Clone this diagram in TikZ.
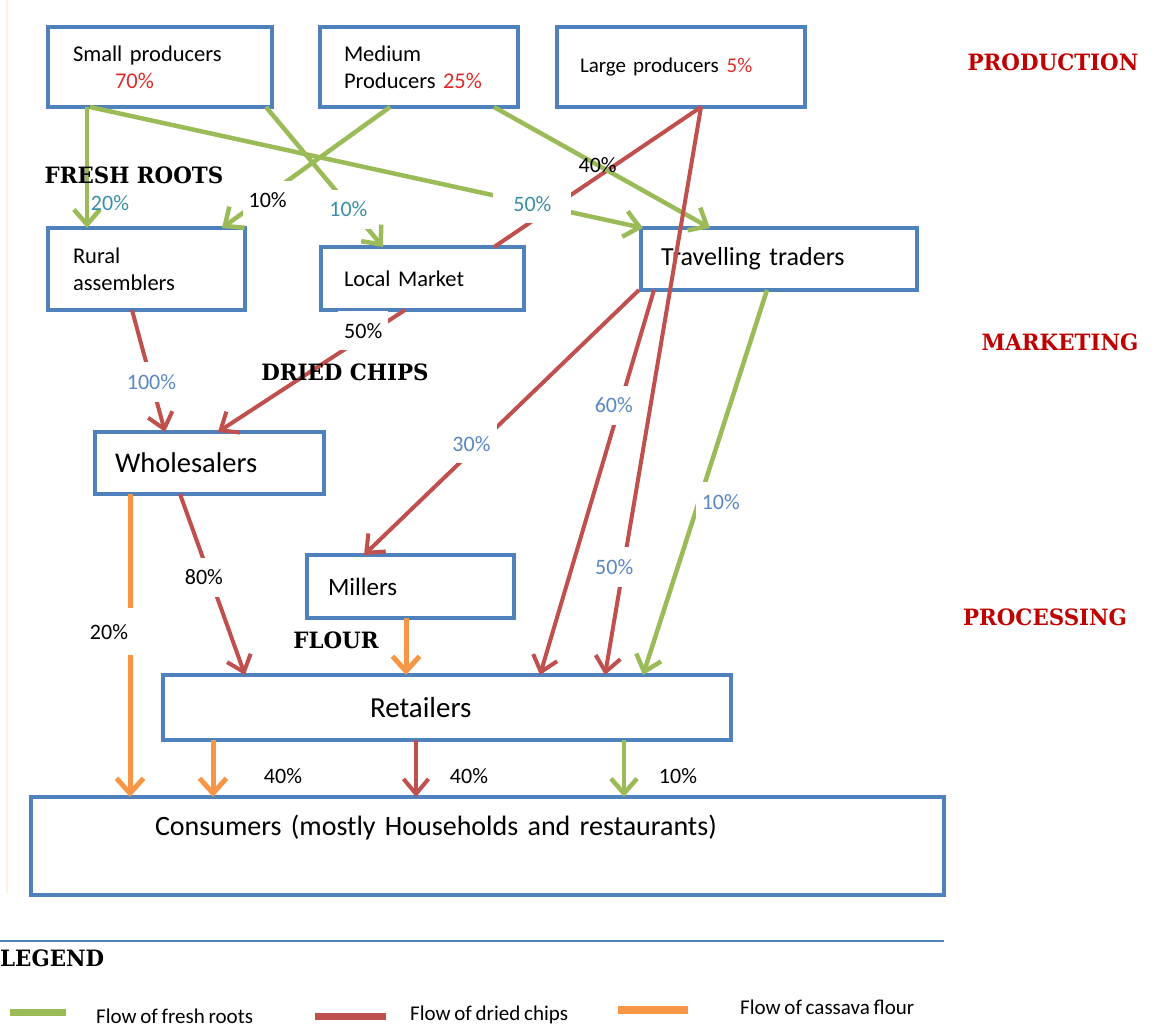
\documentclass[tikz,border=0pt]{standalone}
\usepackage{fontspec}
\setmainfont{Carlito}[WordSpace=0.8]
\newfontfamily\slabfont[FakeStretch=0.95]{DejaVu Serif}
\usetikzlibrary{arrows.meta}
\definecolor{boxblue}{HTML}{4F81BD}
\definecolor{freshgreen}{HTML}{9BBB59}
\definecolor{chipred}{HTML}{C0504D}
\definecolor{flourorange}{HTML}{F79646}
\definecolor{pcteal}{HTML}{3A8FA8}
\definecolor{pcblue}{HTML}{5B87C5}
\definecolor{pctred}{HTML}{E02B2B}
\definecolor{sidered}{HTML}{C00000}

\begin{document}
\begin{tikzpicture}[x=1pt, y=-1pt,
  box/.style={draw=boxblue, line width=3.5pt, fill=white, anchor=north west, outer sep=0pt,
    align=left, font=\fontsize{22.5}{27}\selectfont},
  fresh/.style={draw=freshgreen, line width=4.5pt, -{Straight Barb[length=15pt,width=26pt]}},
  chips/.style={draw=chipred, line width=4pt, -{Straight Barb[length=15pt,width=25pt]}},
  flour/.style={draw=flourorange, line width=5pt, -{Straight Barb[length=15pt,width=27pt]}},
  pct/.style={fill=white, font=\fontsize{22}{22}\selectfont, inner xsep=6pt, inner ysep=12pt},
  share/.style={font=\fontsize{22}{22}\selectfont},
  stage/.style={text=sidered, font=\slabfont\bfseries\fontsize{22.5}{22.5}\selectfont},
  kind/.style={font=\slabfont\bfseries\fontsize{22.5}{22.5}\selectfont},
  legtext/.style={font=\fontsize{21}{21}\selectfont, anchor=west, inner sep=0pt}]
  \useasboundingbox (0,0) rectangle (1154,1030);
  \draw[orange!12, line width=2pt] (7,0) -- (7,893);

  % actors
  \node[box, minimum height=80pt, inner xsep=25pt, text width=174pt] (small) at (48,27)
    {Small producers\\\hspace*{42pt}{\color{pctred}70\%}};
  \node[box, minimum height=80pt, inner xsep=24pt, text width=150pt] (medium) at (320,27)
    {Medium\\Producers {\color{pctred}25\%}};
  \node[box, minimum height=80pt, inner xsep=23pt, text width=202pt, font=\fontsize{21}{24}\selectfont] (large) at (557,27)
    {Large producers\hspace{8pt}{\color{pctred}5\%}};
  \node[box, minimum height=82pt, inner xsep=25pt, text width=147pt] (rural) at (48,228)
    {Rural\\assemblers};
  \node[box, minimum height=63pt, inner xsep=23pt, text width=157pt] (market) at (321,247)
    {Local Market};
  \node[box, minimum height=62pt, inner xsep=20pt, text width=236pt, font=\fontsize{26}{27}\selectfont] (traders) at (641,228)
    {Travelling traders};
  \node[box, minimum height=62pt, inner xsep=20pt, text width=189pt, font=\fontsize{28.5}{27}\selectfont] (whole) at (95,432)
    {Wholesalers};
  \node[box, minimum height=63pt, inner xsep=21pt, text width=165pt, font=\fontsize{25}{27}\selectfont] (millers) at (307,555)
    {Millers};
  \node[box, minimum height=65pt, inner xsep=207pt, text width=154pt, font=\fontsize{29}{27}\selectfont] (retail) at (163,675)
    {Retailers};
  \node[box, inner ysep=0pt, text height=38pt, text depth=60pt, inner xsep=124pt, text width=665pt,
    font=\fontsize{28}{27}\selectfont] (cons) at (31,797)
    {Consumers (mostly Households and restaurants)};

  % flows
  \draw[chips, -] ([xshift=144pt]large.south west) -- ([xshift=-30pt]market.north east);
  \draw[fresh] ([xshift=39pt]small.south west) -- ([xshift=39pt]rural.north west)
    node[share, text=pcteal, pos=0.79, xshift=23pt] {20\%};
  \draw[fresh] ([xshift=42pt]small.south west) -- ([xshift=2pt]traders.north west)
    node[pct, text=pcteal, pos=0.8, inner xsep=20pt] {50\%};
  \draw[fresh] ([xshift=-6pt]small.south east) -- ([xshift=62pt]market.north west)
    node[pct, text=pcteal, pos=0.73, xshift=-3pt] {10\%};
  \draw[fresh] ([xshift=70pt]medium.south west) -- ([xshift=-23pt]rural.north east)
    node[pct, pos=0.77, xshift=7pt] {10\%};
  \draw[fresh] ([xshift=-24pt]medium.south east) -- ([xshift=69pt]traders.north west)
    node[share, pos=0.48] {40\%};
  \draw[chips] ([xshift=144pt]large.south west) -- ([xshift=442pt]retail.north west)
    node[pct, text=pcblue, pos=0.81, xshift=-9pt] {50\%};
  \draw[chips] ([xshift=-2pt]traders.south west) -- ([xshift=57pt]millers.north west)
    node[pct, text=pcblue, pos=0.58, xshift=-8pt] {30\%};
  \draw[chips] ([xshift=13pt]traders.south west) -- ([xshift=377pt]retail.north west)
    node[pct, text=pcblue, pos=0.30, xshift=-6pt] {60\%};
  \draw[fresh] ([xshift=126pt]traders.south west) -- ([xshift=480pt]retail.north west)
    node[pct, text=pcblue, pos=0.55, xshift=22pt] {10\%};
  \draw[chips] ([xshift=84pt]rural.south west) -- ([xshift=70pt]whole.north west)
    node[pct, text=pcblue, pos=0.59] {100\%};
  \draw[chips] ([xshift=84pt]market.south west) -- ([xshift=123pt]whole.north west)
    node[pct, pos=0.17, xshift=-10pt] {50\%};
  \draw[chips] ([xshift=85pt]whole.south west) -- ([xshift=82pt]retail.north west)
    node[pct, pos=0.46, xshift=-6pt] {80\%};
  \draw[flour] ([xshift=35pt]whole.south west) -- ([xshift=99pt]cons.north west)
    node[pct, pos=0.455, xshift=-21pt, inner xsep=12pt, inner ysep=16pt] {20\%};
  \draw[flour] ([xshift=99pt]millers.south west) -- ([xshift=243pt]retail.north west);
  \draw[flour] ([xshift=50pt]retail.south west) -- ([xshift=182pt]cons.north west)
    node[share, pos=0.63, xshift=70pt] {40\%};
  \draw[chips] ([xshift=253pt]retail.south west) -- ([xshift=385pt]cons.north west)
    node[share, pos=0.63, xshift=53pt] {40\%};
  \draw[fresh] ([xshift=461pt]retail.south west) -- ([xshift=593pt]cons.north west)
    node[share, pos=0.63, xshift=54pt] {10\%};

  % product and stage labels
  \node[kind] (rootslbl) at (134,175) {FRESH ROOTS};
  \node[kind] (chipslbl) at (345,372) {DRIED CHIPS};
  \node[kind] (flourlbl) at (336,640) {FLOUR};
  \node[stage] (prodlbl) at (1053,62) {PRODUCTION};
  \node[stage] (marklbl) at (1060,342) {MARKETING};
  \node[stage] (proclbl) at (1045,617) {PROCESSING};

  % legend
  \draw[boxblue, line width=1.5pt] (0,941) -- (944,941);
  \node[kind, anchor=west, inner sep=0pt] (legend) at (0,958) {LEGEND};
  \draw[freshgreen, line width=7pt] (10,1012) -- (66,1012);
  \node[legtext] (legfresh) at (96,1016) {Flow of fresh roots};
  \draw[chipred, line width=7pt] (315,1016) -- (386,1016);
  \node[legtext] (legchips) at (410,1015) {Flow of dried chips};
  \draw[flourorange, line width=8pt] (618,1010) -- (688,1010);
  \node[legtext] (legflour) at (740,1007) {Flow of cassava flour};
\end{tikzpicture}
\end{document}
